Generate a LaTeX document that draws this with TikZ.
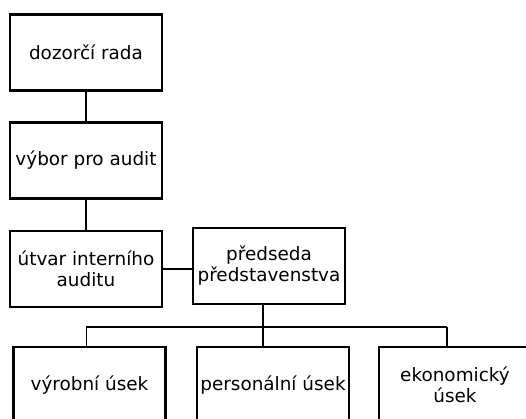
\documentclass[tikz,border=0pt]{standalone}
\usepackage{fontspec}
\setmainfont{DejaVu Sans}

\tikzset{
  unit/.style={draw, line width=2.8pt, minimum width=152pt, minimum height=76pt,
    inner sep=1pt, align=center, font=\fontsize{18.4}{21}\selectfont},
  link/.style={line width=2.8pt}
}

\begin{document}
\begin{tikzpicture}[x=1pt, y=-1pt]
  % Page frame
  \useasboundingbox (0, 0) rectangle (526, 418);
  \clip (0, 0) rectangle (526, 418);

  % Supervisory side
  \node [unit] (rada) at (86, 52.5) {dozorčí rada};
  \node [unit] (vybor) at (86, 160.5) {výbor pro audit};
  \node [unit] (utvar) at (86, 269) {útvar interního\\auditu};
  \node [unit] (predseda) at (269, 266) {předseda\\představenstva};

  % Divisions
  \node [unit] (vyroba) at (89.5, 385) {výrobní úsek};
  \node [unit] (personal) at (273, 385) {personální úsek};
  \node [unit] (ekonom) at (455, 385) {ekonomický\\úsek};

  % Links
  \draw [link] (rada) -- (vybor);
  \draw [link] (vybor) -- (utvar);
  \draw [link] (utvar.east) -- (utvar.east -| predseda.west);

  % Bus to divisions
  \coordinate (bus) at (263, 327);
  \coordinate (busL) at (86, 327);
  \coordinate (busR) at (447, 327);
  \draw [link] (predseda.south -| bus) -- (personal.north -| bus);
  \draw [line width=2.2pt] (busL) -- (busR);
  \draw [line width=1pt] (busL) -- (vyroba.north -| busL);
  \draw [link] (busR) -- (ekonom.north -| busR);
\end{tikzpicture}
\end{document}
